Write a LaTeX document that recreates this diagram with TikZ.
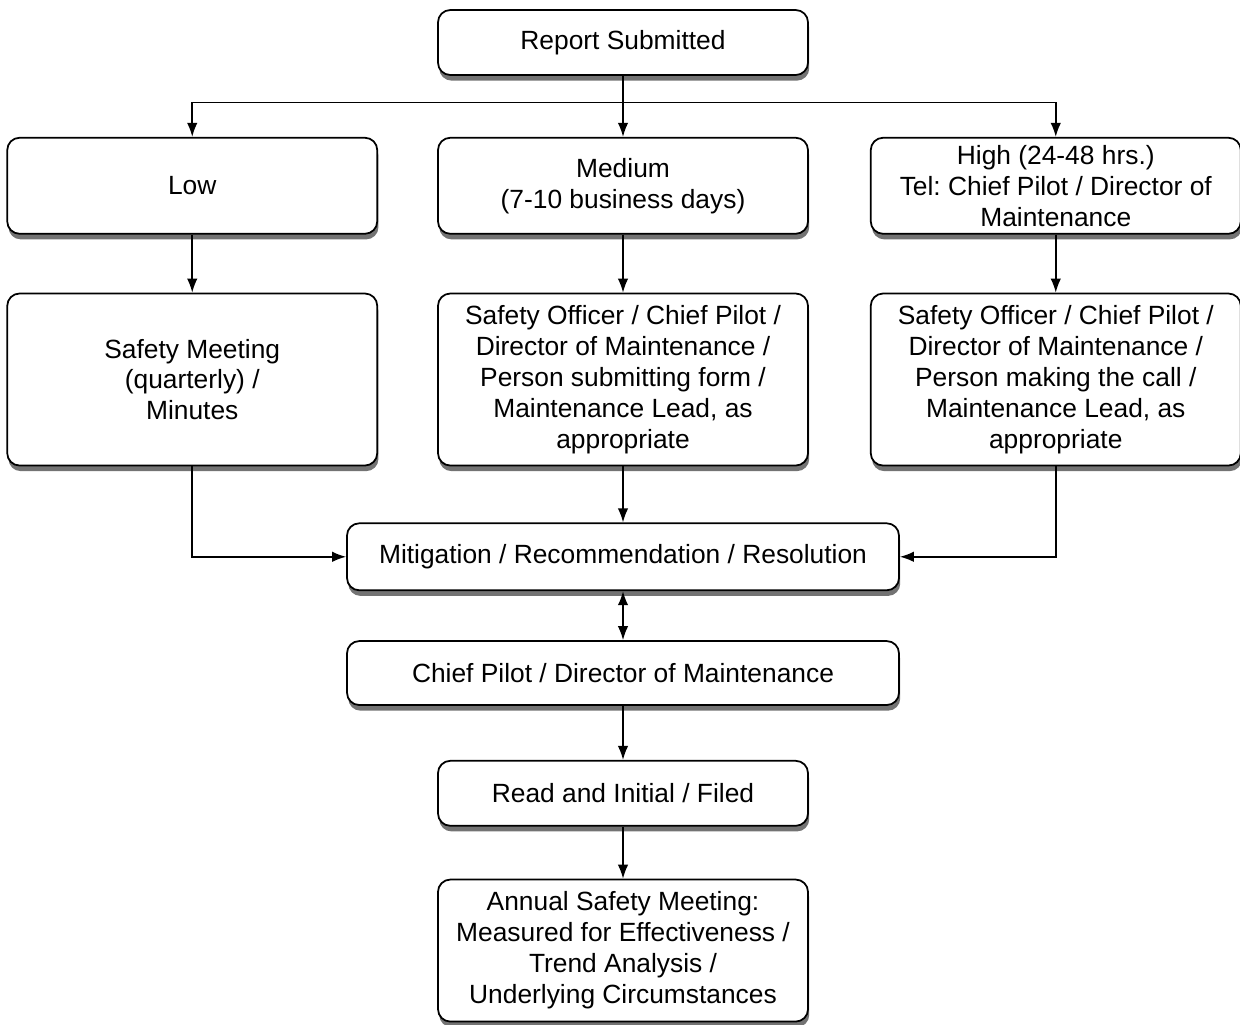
\documentclass[tikz,border=0pt]{standalone}
\usepackage{fontspec}
\setmainfont{Liberation Sans}
\usepackage{tikz}
\usetikzlibrary{arrows.meta,positioning,calc,shadows}
\frenchspacing

\begin{document}
\begin{tikzpicture}[
  node distance=1.2cm,
  box/.style={draw, line width=1pt, rounded corners=7pt, minimum width=7.4cm, align=center,
    inner ysep=1pt, font=\fontsize{15}{17.6}\selectfont, fill=white,
    drop shadow={shadow xshift=0.7pt, shadow yshift=-3.2pt, fill=black!55, opacity=1}},
  wbox/.style={box, minimum width=11.04cm},
  arrow/.style={-{Latex[length=8pt,width=6pt]}, line width=0.9pt}
]
\useasboundingbox (0,0) rectangle (24.8,-20.48);
\node[box, minimum height=1.3cm] (report) at (12.46,-0.85) {Report Submitted};
\node[box, minimum height=1.92cm, below=1.22cm of report] (medium) {Medium\\(7-10 business days)};
\node[box, minimum height=1.92cm, left=1.18cm of medium] (low) {Low};
\node[box, minimum height=1.92cm, right=1.22cm of medium] (high) {High (24-48 hrs.)\\Tel: Chief Pilot / Director of\\Maintenance};
\node[box, minimum height=3.44cm, below=1.16cm of medium] (medact) {Safety Officer / Chief Pilot /\\Director of Maintenance /\\Person submitting form /\\Maintenance Lead, as\\appropriate};
\node[box, minimum height=3.44cm, left=1.18cm of medact] (lowact) {Safety Meeting\\(quarterly) /\\Minutes};
\node[box, minimum height=3.44cm, right=1.22cm of medact] (highact) {Safety Officer / Chief Pilot /\\Director of Maintenance /\\Person making the call /\\Maintenance Lead, as\\appropriate};
\node[wbox, minimum height=1.34cm, below=1.12cm of medact] (mitig) {Mitigation / Recommendation / Resolution};
\node[wbox, minimum height=1.28cm, below=0.98cm of mitig] (chief) {Chief Pilot / Director of Maintenance};
\node[box, minimum height=1.3cm, below=1.08cm of chief] (read) {Read and Initial / Filed};
\node[box, minimum height=2.84cm, below=1.04cm of read] (annual) {Annual Safety Meeting:\\Measured for Effectiveness /\\Trend Analysis /\\Underlying Circumstances};
\coordinate (split) at ($(report.south)!0.435!(medium.north)$);
\draw[arrow] (report) -- (medium);
\draw[arrow] (split) -| (low);
\draw[arrow] (split) -| (high);
\draw[arrow] (low) -- (lowact);
\draw[arrow] (medium) -- (medact);
\draw[arrow] (high) -- (highact);
\draw[arrow] (lowact) |- (mitig);
\draw[arrow] (medact) -- (mitig);
\draw[arrow] (highact) |- (mitig);
\draw[arrow, {Latex[length=8pt,width=6pt]}-{Latex[length=8pt,width=6pt]}] (mitig) -- (chief);
\draw[arrow] (chief) -- (read);
\draw[arrow] (read) -- (annual);
\end{tikzpicture}
\end{document}
